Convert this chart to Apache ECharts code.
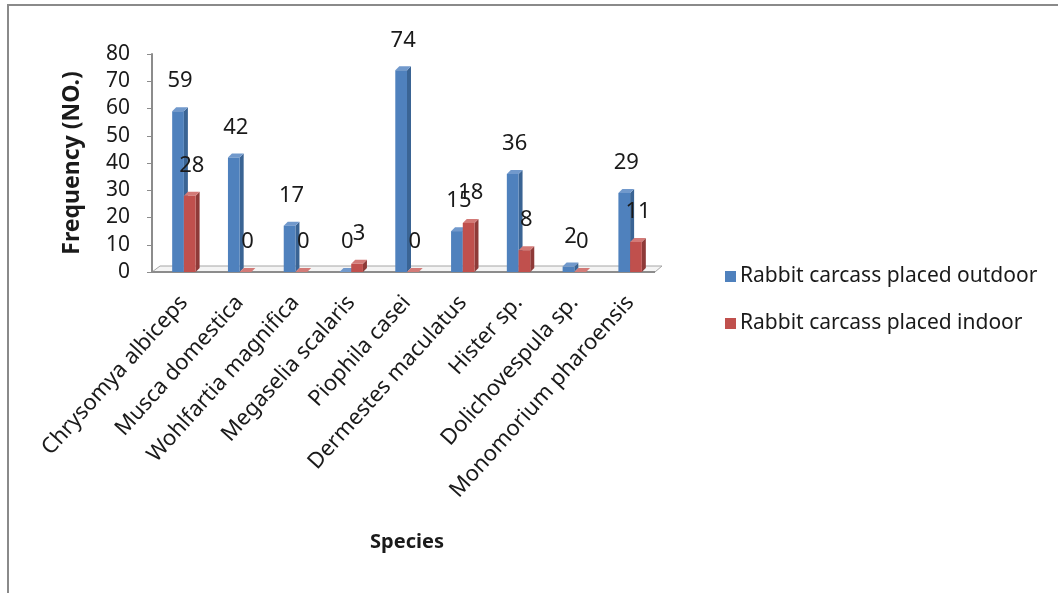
<!DOCTYPE html>
<html>
<head>
<meta charset="utf-8">
<script src="https://cdn.jsdelivr.net/npm/echarts@6/dist/echarts.min.js"></script>
<style>
  html, body { margin: 0; padding: 0; background: #fff; }
  #chart { position: absolute; left: 0; top: 0; width: 1058px; height: 593px; }
  #frame { position: absolute; left: 7px; top: 4px; width: 1060px; height: 600px;
           border-left: 2px solid #8a8a8a; border-top: 2px solid #8a8a8a; pointer-events: none; }
</style>
</head>
<body>
<div id="chart"></div>
<div id="frame"></div>
<script>
// Insect species recorded on rabbit carcasses
const species = [
  'Chrysomya albiceps', 'Musca domestica', 'Wohlfartia magnifica', 'Megaselia scalaris',
  'Piophila casei', 'Dermestes maculatus', 'Hister sp.', 'Dolichovespula sp.', 'Monomorium pharoensis'
];
const outdoor = [59, 42, 17, 0, 74, 15, 36, 2, 29];
const indoor  = [28, 0, 0, 3, 0, 18, 8, 0, 11];
const seriesNames = ['Rabbit carcass placed outdoor', 'Rabbit carcass placed indoor'];
const yTicks = { min: 0, max: 80, interval: 10 };

const FONT = '"Noto Sans", "Liberation Sans", sans-serif';

// 3D-look column: front face, right side face and top face, with value label above
function columnRenderer(fromFrac, toFrac, face, side, topC) {
  return function (params, api) {
    const idx = api.value(0);
    const v = api.value(1);
    const base = api.coord([idx, 0]);
    const top = api.coord([idx, v]);
    const band = api.size([1, 0])[0];
    const x0 = base[0] + band * fromFrac;
    const x1 = base[0] + band * toFrac;
    const yb = base[1];
    const yt = top[1];
    const d = 4;
    return {
      type: 'group',
      children: [
        { type: 'polygon', shape: { points: [[x1, yb], [x1 + d, yb - d], [x1 + d, yt - d], [x1, yt]] },
          style: { fill: side } },
        { type: 'polygon', shape: { points: [[x0, yt], [x0 + d, yt - d], [x1 + d, yt - d], [x1, yt]] },
          style: { fill: topC } },
        { type: 'rect', shape: { x: x0, y: yt, width: x1 - x0, height: Math.max(yb - yt, 0) },
          style: { fill: face } },
        { type: 'text', x: (x0 + x1) / 2 + 2, y: yt - 30,
          style: { text: String(v), font: '22px ' + FONT, fill: '#1a1a1a', align: 'center', verticalAlign: 'middle' } }
      ]
    };
  };
}

// Floor plane under the columns
function floorRenderer(params, api) {
  const cs = params.coordSys;
  const yb = api.coord([0, 0])[1];
  const xl = cs.x, xr = cs.x + cs.width;
  return {
    type: 'group',
    children: [
      { type: 'polygon', shape: { points: [[xl - 4, yb], [xr - 3, yb], [xr + 4, yb - 6], [xl + 4, yb - 6]] },
        style: { fill: '#f4f4f4', stroke: '#a6a6a6', lineWidth: 1 } },
      { type: 'line', shape: { x1: xl - 4, y1: yb, x2: xr - 3, y2: yb },
        style: { stroke: '#8c8c8c', lineWidth: 2 } }
    ]
  };
}

const chart = echarts.init(document.getElementById('chart'), null, { renderer: 'canvas' });
chart.setOption({
  animation: false,
  textStyle: { fontFamily: FONT },
  grid: { left: 156, right: 400, top: 54, bottom: 321, containLabel: false },
  legend: {
    data: seriesNames,
    orient: 'vertical',
    left: 720, top: 261,
    itemGap: 26,
    itemWidth: 11, itemHeight: 11,
    icon: 'rect',
    textStyle: { fontSize: 21, color: '#1a1a1a', fontFamily: FONT, padding: [0, 0, 0, -1] }
  },
  xAxis: {
    type: 'category',
    data: species,
    name: 'Species',
    nameLocation: 'middle',
    nameGap: 0,
    nameTextStyle: { fontSize: 20, fontWeight: 'bold', color: '#1a1a1a', padding: [260, 0, 0, 0] },
    axisLine: { show: false },
    axisTick: { show: false },
    axisLabel: { rotate: 48, fontSize: 22, color: '#1a1a1a', margin: 27, interval: 0 }
  },
  yAxis: {
    type: 'value',
    min: yTicks.min, max: yTicks.max, interval: yTicks.interval,
    offset: 4,
    name: 'Frequency (NO.)',
    nameLocation: 'middle',
    nameGap: 68,
    nameTextStyle: { fontSize: 23, fontWeight: 'bold', color: '#1a1a1a' },
    axisLine: { show: true, lineStyle: { color: '#8c8c8c', width: 2 } },
    axisTick: { show: true, length: 5, lineStyle: { color: '#8c8c8c' } },
    axisLabel: { fontSize: 21, color: '#1a1a1a', margin: 22 },
    splitLine: { show: false }
  },
  series: [
    {
      type: 'custom', name: 'floor', z: 1,
      renderItem: floorRenderer,
      data: [[0, 0]],
      silent: true
    },
    {
      type: 'custom', name: seriesNames[0], z: 2,
      itemStyle: { color: '#4F81BD' },
      renderItem: columnRenderer(-0.21, 0, '#4F81BD', '#3A6494', '#7199CC'),
      data: outdoor.map((v, i) => [i, v])
    },
    {
      type: 'custom', name: seriesNames[1], z: 3,
      itemStyle: { color: '#C0504D' },
      renderItem: columnRenderer(0, 0.21, '#C0504D', '#8E3A38', '#D37A77'),
      data: indoor.map((v, i) => [i, v])
    }
  ]
});
</script>
</body>
</html>
